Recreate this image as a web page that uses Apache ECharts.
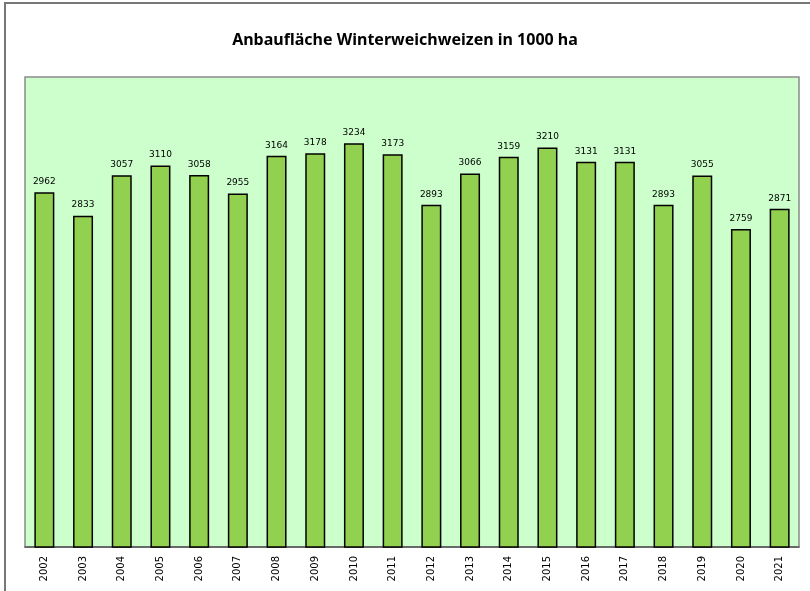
<!DOCTYPE html>
<html lang="de">
<head>
	<meta charset="utf-8">
	<title>Anbaufläche Winterweichweizen</title>
	<script src="https://cdn.jsdelivr.net/npm/echarts@6/dist/echarts.min.js"></script>
	<style type="text/css">
		html, body {
			margin: 0;
			padding: 0;
			background: #fff;
		}
		#chart {
			width: 810px;
			height: 591px;
		}
	</style>
</head>
<body>
	<div id="chart"></div>
	<script type="text/javascript">
		// data
		var years = ['2002', '2003', '2004', '2005', '2006', '2007', '2008', '2009', '2010', '2011',
			'2012', '2013', '2014', '2015', '2016', '2017', '2018', '2019', '2020', '2021'];
		var area = [2962, 2833, 3057, 3110, 3058, 2955, 3164, 3178, 3234, 3173,
			2893, 3066, 3159, 3210, 3131, 3131, 2893, 3055, 2759, 2871];
		var yMin = 1000;
		var yMax = 3600;

		var chart = echarts.init(document.getElementById('chart'));
		var option = {
			animation: false,
			title: {
				text: 'Anbaufläche Winterweichweizen in 1000 ha',
				left: 'center',
				top: 27,
				textStyle: {
					fontFamily: 'Noto Sans',
					fontSize: 16,
					fontWeight: 'bold',
					color: '#000'
				}
			},
			graphic: [{
				type: 'polyline',
				shape: { points: [[5, 591], [5, 3], [810, 3]] },
				style: { stroke: '#777', lineWidth: 2, fill: null },
				silent: true
			}],
			grid: {
				left: 25,
				right: 11,
				top: 77,
				bottom: 44,
				show: true,
				backgroundColor: '#ccffcc',
				borderColor: '#8a8a8a',
				borderWidth: 1.5
			},
			xAxis: {
				type: 'category',
				data: years,
				axisLine: { lineStyle: { color: '#555', width: 1.5 } },
				axisTick: { show: false },
				axisLabel: {
					rotate: 90,
					margin: 9,
					fontFamily: 'DejaVu Sans',
					fontSize: 10,
					color: '#000'
				}
			},
			yAxis: {
				type: 'value',
				min: yMin,
				max: yMax,
				show: false,
				splitLine: { show: false }
			},
			series: [{
				name: 'Anbaufläche',
				type: 'bar',
				data: area,
				barWidth: 20,
				itemStyle: {
					color: '#92d050',
					borderColor: '#000',
					borderWidth: 1.5
				},
				label: {
					show: true,
					position: 'top',
					distance: 6,
					fontFamily: 'DejaVu Sans',
					fontSize: 9,
					color: '#000'
				}
			}]
		};
		chart.setOption(option);
	</script>
</body>
</html>
